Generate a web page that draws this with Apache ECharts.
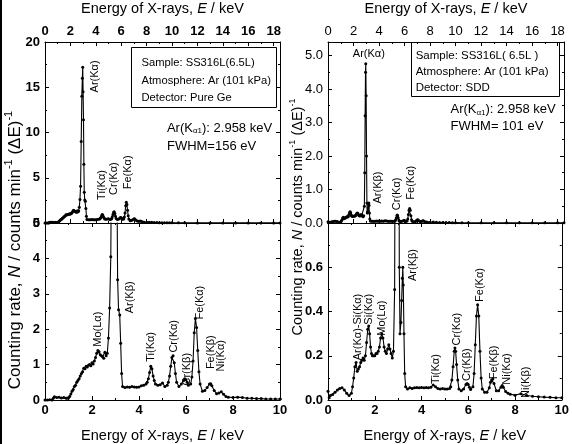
<!DOCTYPE html>
<html><head><meta charset="utf-8">
<script src="https://cdn.jsdelivr.net/npm/echarts@6/dist/echarts.min.js"></script>
<style>html,body{margin:0;padding:0;background:#fff}#c{width:572px;height:444px}</style>
</head><body><div id="c"></div>
<script>
// ---- Data: Ge detector spectrum (left) ----
const geEnergy = [0.0,0.1,0.2,0.3,0.35,0.4,0.5,0.6,0.7,0.8,0.9,0.95,1.0,1.05,1.1,1.15,1.2,1.25,1.3,1.35,1.4,1.45,1.5,1.55,1.6,1.65,1.7,1.75,1.8,1.85,1.9,1.95,2.0,2.05,2.1,2.15,2.2,2.25,2.3,2.35,2.4,2.45,2.5,2.55,2.6,2.65,2.7,2.75,2.8,2.85,2.9,2.94,2.97,3.0,3.03,3.06,3.09,3.13,3.18,3.22,3.26,3.3,3.4,3.5,3.6,3.7,3.8,3.9,4.0,4.1,4.2,4.3,4.35,4.4,4.45,4.5,4.55,4.6,4.65,4.7,4.8,4.9,5.0,5.1,5.2,5.25,5.3,5.35,5.4,5.45,5.5,5.55,5.6,5.7,5.8,5.9,5.95,6.0,6.05,6.1,6.2,6.25,6.3,6.35,6.4,6.45,6.5,6.55,6.6,6.7,6.8,6.9,7.0,7.05,7.1,7.2,7.3,7.4,7.5,7.6,7.7,7.8,8.0,8.2,8.4,8.6,8.8,9.0,9.2,9.4,9.6,9.8,10.0,10.5,11,12,13,14,15,16,17,18,18.5];
const geCounts = [0.0,0.0,0.01,0.0,0.05,0.09,0.07,0.08,0.06,0.07,0.05,0.06,0.06,0.1,0.17,0.25,0.3,0.38,0.42,0.5,0.55,0.6,0.68,0.75,0.8,0.9,0.88,0.95,0.93,0.98,1.0,0.97,1.05,1.02,1.1,1.2,1.32,1.4,1.36,1.28,1.25,1.22,1.18,1.35,1.25,1.32,1.75,2.6,4.05,9.0,14.0,16.0,17.2,14.5,11.4,6.5,3.4,2.55,2.4,1.6,0.75,0.38,0.35,0.37,0.36,0.38,0.37,0.36,0.37,0.4,0.42,0.45,0.5,0.6,0.78,0.95,0.88,0.68,0.55,0.45,0.42,0.43,0.48,0.38,0.42,0.5,0.68,0.95,1.2,1.25,1.05,0.75,0.5,0.38,0.45,0.55,0.6,0.57,0.5,0.42,0.45,0.65,1.1,1.9,2.3,2.05,1.4,0.8,0.45,0.25,0.27,0.35,0.45,0.46,0.4,0.27,0.18,0.2,0.23,0.16,0.1,0.08,0.07,0.08,0.07,0.05,0.05,0.04,0.04,0.03,0.03,0.03,0.03,0.02,0.02,0.01,0.01,0.01,0.01,0.01,0.01,0.01,0.01];
// ---- Data: SDD spectrum (right) ----
const sddEnergy = [0.0,0.05,0.1,0.2,0.3,0.4,0.5,0.6,0.7,0.8,0.9,1.0,1.05,1.1,1.15,1.2,1.25,1.3,1.35,1.4,1.45,1.5,1.55,1.6,1.65,1.7,1.74,1.78,1.82,1.86,1.9,1.95,2.0,2.05,2.1,2.15,2.2,2.25,2.3,2.35,2.4,2.45,2.5,2.55,2.6,2.65,2.7,2.75,2.8,2.85,2.88,2.91,2.94,2.96,2.99,3.02,3.05,3.08,3.12,3.15,3.18,3.2,3.22,3.25,3.28,3.32,3.4,3.5,3.6,3.7,3.8,3.9,4.0,4.1,4.2,4.3,4.4,4.5,4.6,4.7,4.8,4.9,5.0,5.1,5.2,5.25,5.3,5.35,5.4,5.43,5.46,5.5,5.55,5.6,5.7,5.8,5.9,5.95,6.0,6.05,6.1,6.2,6.25,6.3,6.35,6.4,6.45,6.5,6.55,6.6,6.7,6.8,6.9,6.95,7.0,7.05,7.1,7.2,7.3,7.4,7.45,7.5,7.6,7.7,7.8,8.0,8.25,8.5,8.75,9.0,9.25,9.5,9.75,10.0,10.5,11,12,13,14,15,16,17,18,18.5];
const sddCounts = [0.04,0.01,0.02,0.025,0.035,0.045,0.052,0.055,0.045,0.03,0.02,0.03,0.06,0.1,0.15,0.17,0.13,0.14,0.15,0.17,0.18,0.19,0.18,0.2,0.26,0.32,0.335,0.3,0.24,0.21,0.2,0.2,0.2,0.21,0.21,0.22,0.24,0.28,0.3,0.28,0.24,0.22,0.21,0.23,0.25,0.23,0.21,0.19,0.22,0.5,1.5,3.2,4.5,4.75,3.8,2.0,0.6,0.3,0.35,0.45,0.55,0.6,0.52,0.3,0.12,0.06,0.05,0.055,0.052,0.055,0.056,0.055,0.057,0.055,0.056,0.055,0.058,0.068,0.06,0.052,0.05,0.052,0.05,0.05,0.052,0.06,0.09,0.15,0.22,0.235,0.22,0.16,0.09,0.05,0.042,0.05,0.07,0.075,0.07,0.058,0.048,0.06,0.12,0.25,0.38,0.43,0.38,0.22,0.1,0.05,0.035,0.035,0.055,0.08,0.09,0.095,0.075,0.042,0.042,0.058,0.065,0.058,0.038,0.03,0.026,0.022,0.028,0.02,0.017,0.015,0.013,0.012,0.01,0.01,0.008,0.007,0.005,0.005,0.005,0.005,0.005,0.005,0.005,0.005];
// ---- Peak labels [energy, value] per panel ----
const ltLabels = ['Ar(Kα)','Ti(Kα)','Cr(Kα)','Fe(Kα)'];
const ltPos = [[3.9,16.2],[4.45,4.2],[5.45,4.9],[6.5,5.6]];
const lbLabels = ['Mo(Lα)','Ar(Kβ)','Ti(Kα)','Cr(Kα)','Cr(Kβ)','Fe(Kα)','Fe(Kβ)','Ni(Kα)'];
const lbPos = [[2.25,2.0],[3.6,2.9],[4.5,1.5],[5.47,1.8],[6.05,0.87],[6.58,2.75],[7.07,1.35],[7.47,1.25]];
const rtLabels = ['Ar(Kβ)','Cr(Kα)','Fe(Kα)'];
const rtPos = [[3.95,1.06],[5.4,0.87],[6.5,1.2]];
const rbLabels = ['Ar(Kα)-Si(Kα)','Si(Kα)','Mo(Lα)','Ar(Kβ)','Ti(Kα)','Cr(Kα)','Cr(Kβ)','Fe(Kα)','Fe(Kβ)','Ni(Kα)','Ni(Kβ)'];
const rbPos = [[1.28,0.33],[1.74,0.41],[2.3,0.37],[3.62,0.61],[4.6,0.14],[5.53,0.32],[5.96,0.16],[6.5,0.52],[7.1,0.17],[7.66,0.14],[8.47,0.08]];

const FF = '"Liberation Sans", Arial, sans-serif';
const chart = echarts.init(document.getElementById('c'), null, {renderer:'canvas'});
const pairs = (e,n)=>e.map((x,i)=>[x,n[i]]);

const gridsPx = [
  {left:45, width:235, top:42, height:181},
  {left:45, width:235, top:223, height:184},
  {left:328, width:236, top:42, height:181},
  {left:328, width:236, top:223, height:184}
];
const black = '#000';
function xAx(grid, pos, min, max, labels, bold, name){
  return {
    type:'value', gridIndex:grid, position:pos, min:min, max:max, interval:2,
    axisLine:{show:true, onZero:false, lineStyle:{color:black, width:1}},
    axisTick:{show:true, inside:true, length:4, lineStyle:{color:black}},
    minorTick:{show:true, splitNumber:2, length:2, lineStyle:{color:black}},
    splitLine:{show:false},
    axisLabel:{show:labels, color:black, fontFamily:FF, fontSize:13, fontWeight:bold?'bold':'normal', margin:4, showMaxLabel: max===10,
      formatter:v=> (v%2===0? String(v):'')},
    name: name||'', nameLocation:'middle', nameGap: pos==='top'?26:28,
    nameTextStyle:{color:black, fontFamily:FF, fontSize:14.5, rich:{i:{fontStyle:'italic', fontFamily:FF, fontSize:14.5, color:black}}}
  };
}
function yAx(grid, pos, min, max, interval, labels, bold, fmt, showMax, showMin){
  return {
    type:'value', gridIndex:grid, position:pos, min:min, max:max, interval:interval,
    axisLine:{show:true, onZero:false, lineStyle:{color:black, width:1}},
    axisTick:{show:true, inside:true, length:4, lineStyle:{color:black}},
    minorTick:{show:true, splitNumber:2, length:2, lineStyle:{color:black}},
    splitLine:{show:false},
    axisLabel:{show:labels, color:black, fontFamily:FF, fontSize:13, fontWeight:bold?'bold':'normal', margin:5,
      showMaxLabel:showMax, showMinLabel:showMin, formatter:fmt}
  };
}
const nameTop = 'Energy of X-rays, {i|E} / keV';
const xAxes = [
  xAx(0,'top',0,18.5,true,true,nameTop),
  xAx(0,'bottom',0,18.5,false,false),
  xAx(1,'bottom',0,10,true,true,nameTop),
  xAx(1,'top',0,10,false,false),
  xAx(2,'top',0,18.5,true,false,nameTop),
  xAx(2,'bottom',0,18.5,false,false),
  xAx(3,'bottom',0,10,true,true,nameTop),
  xAx(3,'top',0,10,false,false)
];
const fInt = v=>String(v);
const f1 = v=>v.toFixed(1);
const yAxes = [
  yAx(0,'left',0,20,5,true,true,fInt,true,true),
  yAx(0,'right',0,20,5,false,false,fInt,true,true),
  yAx(1,'left',0,5,1,true,true,fInt,true,true),
  yAx(1,'right',0,5,1,false,false,fInt,true,true),
  yAx(2,'left',0,5.4,1,true,false,f1,false,true),
  yAx(2,'right',0,5.4,1,false,false,f1,false,true),
  yAx(3,'left',0,0.8,0.2,true,true,f1,false,true),
  yAx(3,'right',0,0.8,0.2,false,false,f1,false,true)
];
function ser(xi, yi, data){
  return {type:'line', xAxisIndex:xi, yAxisIndex:yi, data:data, symbol:'circle', symbolSize:3,
    showAllSymbol:true, clip:true, lineStyle:{color:black, width:1.1}, itemStyle:{color:black}, silent:true};
}
const ge = pairs(geEnergy, geCounts), sdd = pairs(sddEnergy, sddCounts);
chart.setOption({
  animation:false,
  grid: gridsPx.map(g=>Object.assign({containLabel:false}, g)),
  xAxis: xAxes, yAxis: yAxes,
  series:[ser(0,0,ge), ser(2,2,ge), ser(4,4,sdd), ser(6,6,sdd)]
});

function px(p, pt){ return chart.convertToPixel({xAxisIndex:p*2, yAxisIndex:p*2}, pt); }
const g = [];
function vlabel(p, txt, pos){
  const q = px(p,pos);
  g.push({type:'text', x:q[0], y:q[1], rotation:Math.PI/2, silent:true,
    style:{text:txt, fill:black, font:'11px '+FF, align:'center', verticalAlign:'middle'}});
}
ltLabels.forEach((t,i)=>vlabel(0,t,ltPos[i]));
lbLabels.forEach((t,i)=>vlabel(1,t,lbPos[i]));
rtLabels.forEach((t,i)=>vlabel(2,t,rtPos[i]));
rbLabels.forEach((t,i)=>vlabel(3,t,rbPos[i]));
{ const q = px(2,[3.2,5.05]);
  g.push({type:'text', x:q[0], y:q[1], silent:true, style:{text:'Ar(Kα)', fill:black, font:'11px '+FF, align:'center', verticalAlign:'middle'}}); }

// info boxes
function box(p, c1, c2, lines, lx, ly, fs){
  const a = px(p,c1), b = px(p,c2);
  g.push({type:'rect', silent:true, shape:{x:Math.round(a[0])+0.5, y:Math.round(a[1])+0.5, width:Math.round(b[0]-a[0]), height:Math.round(b[1]-a[1])},
    style:{fill:'#fff', stroke:black, lineWidth:1}});
  lines.forEach((t,i)=>{ const q = px(p,[lx, ly[i]]);
    g.push({type:'text', x:q[0], y:q[1], silent:true, style:{text:t, fill:black, font:fs+'px '+FF, align:'left', verticalAlign:'middle'}}); });
}
box(0,[6.8,19.4],[18.2,12.8],['Sample: SS316L(6.5L)','Atmosphere: Ar (101 kPa)','Detector: Pure Ge'],7.6,[17.7,15.7,13.8],11.2);
box(2,[6.5,5.4],[18.1,3.78],['Sample: SS316L( 6.5L )','Atmosphere: Ar (101 kPa)','Detector: SDD'],6.87,[5.0,4.52,4.03],11.5);
function arText(p, pos1, pos2, fw){
  const a = px(p,pos1), b = px(p,pos2);
  g.push({type:'text', x:a[0], y:a[1], silent:true, style:{text:'Ar(K{sub|α1}): 2.958 keV', fill:black, font:'13px '+FF, align:'left', verticalAlign:'middle',
    rich:{sub:{fontSize:8, fontFamily:FF, fill:black, verticalAlign:'bottom', padding:[6,0,0,0]}}}});
  g.push({type:'text', x:b[0], y:b[1], silent:true, style:{text:fw, fill:black, font:'13px '+FF, align:'left', verticalAlign:'middle'}});
}
arText(0,[9.6,10.5],[9.6,8.5],'FWHM=156 eV');
arText(2,[9.6,3.38],[9.6,2.87],'FWHM= 101 eV');

// y-axis titles
function ytitle(x, y, fs){
  g.push({type:'text', x:x, y:y, rotation:Math.PI/2, silent:true,
    style:{text:'{n|Counting rate, }{i|N}{n| / counts min}{s|-1}{n| (ΔE)}{s|-1}', align:'center', verticalAlign:'middle', fill:black,
      rich:{n:{fontSize:fs, fontFamily:FF, lineHeight:fs+6, fill:black},
            i:{fontSize:fs, fontFamily:FF, fontStyle:'italic', lineHeight:fs+6, fill:black},
            s:{fontSize:Math.round(fs*0.62), fontFamily:FF, lineHeight:Math.round(fs*0.62), verticalAlign:'top', fill:black}}}});
}
ytitle(15, 250, 17);
ytitle(298, 217, 14.5);
// left border line
g.push({type:'line', silent:true, shape:{x1:1,y1:0,x2:1,y2:444}, style:{stroke:black, lineWidth:2}});
chart.setOption({graphic:g});
</script>
</body></html>
